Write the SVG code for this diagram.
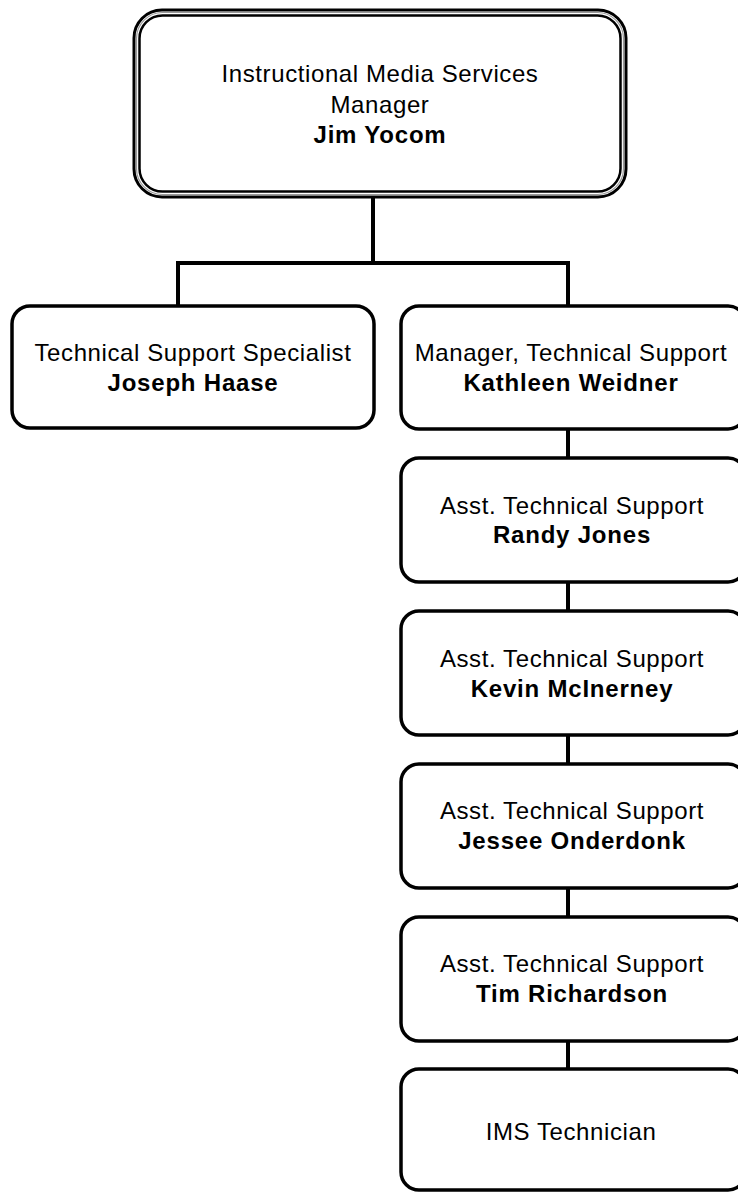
<svg xmlns="http://www.w3.org/2000/svg" width="738" height="1192" viewBox="0 0 738 1192">
<style>
.box{fill:#fff;stroke:#000;stroke-width:3.5}
.t{font-family:"Liberation Sans",Arial,sans-serif;font-size:24px;letter-spacing:0.6px;text-anchor:middle;fill:#000}
.b{font-weight:bold;letter-spacing:0.8px}
.con{fill:none;stroke:#000;stroke-width:4}
</style>
<rect width="738" height="1192" fill="#fff"/>
<g id="connectors">
<path class="con" d="M373,196 V263 M178,263 H568 M178,261 V306 M568,261 V306"/>
<path class="con" d="M568,428 V458 M568,582 V611 M568,735 V764 M568,888 V917 M568,1041 V1069"/>
</g>
<g id="n-yocom">
<rect x="134" y="10" width="492" height="187" rx="28" fill="#fff" stroke="#000" stroke-width="3"/>
<rect x="136.5" y="12.5" width="487" height="182" rx="26" fill="none" stroke="#999" stroke-width="1.2"/>
<rect x="139.5" y="15.5" width="481" height="176" rx="23" fill="none" stroke="#000" stroke-width="2.5"/>
<text class="t" x="380" y="82">Instructional Media Services</text>
<text class="t" x="380" y="113">Manager</text>
<text class="t b" x="380" y="143">Jim Yocom</text>
</g>
<g id="n-haase">
<rect class="box" x="12" y="306" width="362" height="122" rx="18"/>
<text class="t" x="193" y="361">Technical Support Specialist</text>
<text class="t b" x="193" y="391">Joseph Haase</text>
</g>
<g id="n-weidner">
<rect class="box" x="401" y="306" width="345" height="123" rx="18"/>
<text class="t" x="571" y="361">Manager, Technical Support</text>
<text class="t b" x="571" y="391">Kathleen Weidner</text>
</g>
<g id="n-jones">
<rect class="box" x="401" y="458" width="345" height="124" rx="18"/>
<text class="t" x="572" y="514">Asst. Technical Support</text>
<text class="t b" x="572" y="543">Randy Jones</text>
</g>
<g id="n-mcinerney">
<rect class="box" x="401" y="611" width="345" height="124" rx="18"/>
<text class="t" x="572" y="667">Asst. Technical Support</text>
<text class="t b" x="572" y="697">Kevin McInerney</text>
</g>
<g id="n-onderdonk">
<rect class="box" x="401" y="764" width="345" height="124" rx="18"/>
<text class="t" x="572" y="819">Asst. Technical Support</text>
<text class="t b" x="572" y="849">Jessee Onderdonk</text>
</g>
<g id="n-richardson">
<rect class="box" x="401" y="917" width="345" height="124" rx="18"/>
<text class="t" x="572" y="972">Asst. Technical Support</text>
<text class="t b" x="572" y="1002">Tim Richardson</text>
</g>
<g id="n-technician">
<rect class="box" x="401" y="1069" width="345" height="121" rx="18"/>
<text class="t" x="571" y="1140">IMS Technician</text>
</g>
</svg>
